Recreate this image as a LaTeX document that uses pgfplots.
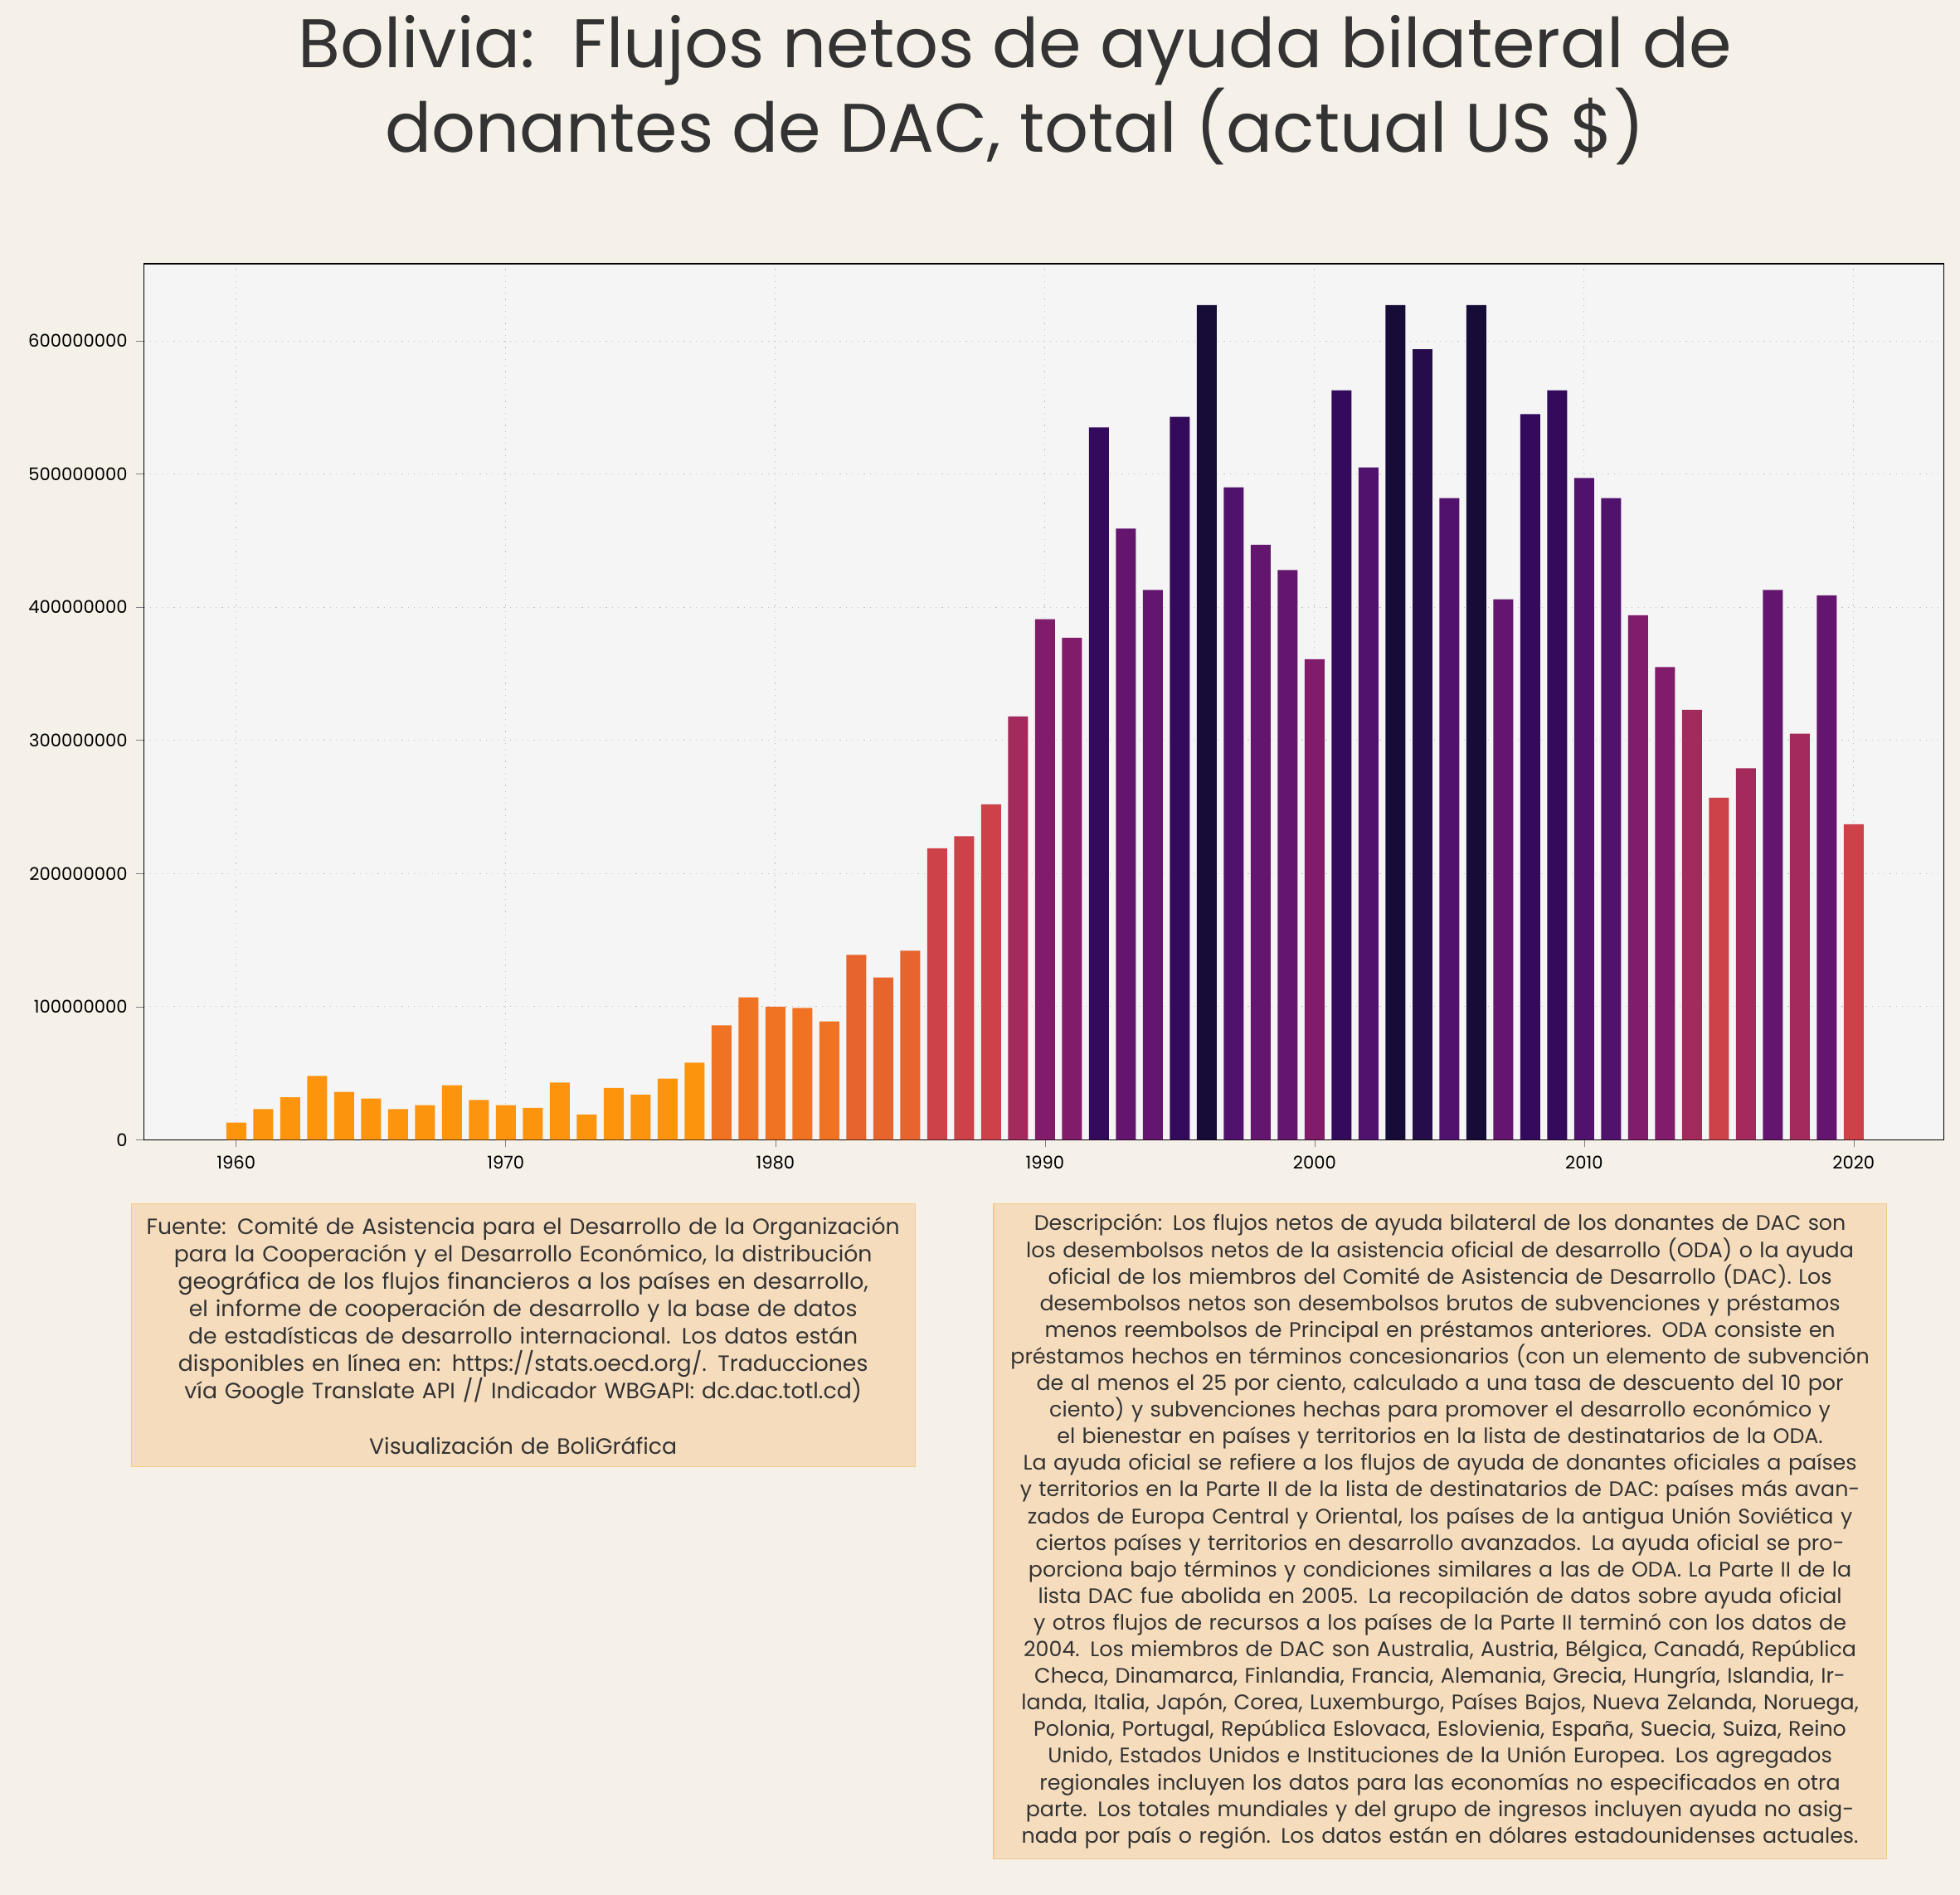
\documentclass[border=0pt]{standalone}
\usepackage{pgfplots}
\pgfplotsset{compat=1.18}
\usepackage{fontspec}
\setmainfont{Poppins}
\definecolor{pagebg}{HTML}{F5F0E8}
\definecolor{axbg}{HTML}{F5F5F5}
\definecolor{boxfill}{HTML}{F5DCBD}
\definecolor{boxdraw}{HTML}{F3C890}
\definecolor{txt}{HTML}{333333}
\definecolor{c1}{RGB}{252,148,14}
\definecolor{c2}{RGB}{240,115,35}
\definecolor{c3}{RGB}{232,100,45}
\definecolor{c4}{RGB}{205,65,72}
\definecolor{c5}{RGB}{165,42,92}
\definecolor{c6}{RGB}{128,28,106}
\definecolor{c7}{RGB}{100,22,110}
\definecolor{c8}{RGB}{80,18,108}
\definecolor{c9}{RGB}{52,10,92}
\definecolor{c10}{RGB}{22,12,55}
\definecolor{c11}{RGB}{38,12,75}
\begin{document}
\begin{tikzpicture}
\fill[pagebg] (0,0) rectangle (784pt,-758pt);
\node[font=\fontsize{27.5}{31.5}\selectfont, text=txt, align=center, anchor=center] at (406pt,-36pt) {Bolivia:\ \ Flujos netos de ayuda bilateral de\\donantes de DAC, total (actual US \$)};
\begin{axis}[at={(57.5pt,-456pt)}, anchor=south west, scale only axis,
 width=720pt, height=350.5pt,
 xmin=1956.57, xmax=2023.34, ymin=0, ymax=658000000,
 axis background/.style={fill=axbg},
 grid=major, grid style={gray!50, dotted},
 xtick={1960,1970,...,2020}, ytick={0,100000000,...,600000000},
 scaled y ticks=false, tick pos=left,
 /pgf/number format/.cd, fixed, 1000 sep={}, assume math mode=true, /pgfplots/.cd,
 tick label style={font=\fontsize{7}{8}\selectfont, text=black},
 tick align=outside, major tick length=3pt,
 ybar, bar width=0.74, bar shift=0pt,
 every axis plot/.append style={draw=none},
]
\addplot[fill=c1] coordinates {(1960,13e6)(1961,23e6)(1962,32e6)(1963,48e6)(1964,36e6)(1965,31e6)(1966,23e6)(1967,26e6)(1968,41e6)(1969,30e6)
(1970,26e6)(1971,24e6)(1972,43e6)(1973,19e6)(1974,39e6)(1975,34e6)(1976,46e6)(1977,58e6)};
\addplot[fill=c2] coordinates {(1978,86e6)(1979,107e6)(1980,100e6)(1981,99e6)(1982,89e6)};
\addplot[fill=c3] coordinates {(1983,139e6)(1984,122e6)(1985,142e6)};
\addplot[fill=c4] coordinates {(1986,219e6)(1987,228e6)(1988,252e6)(2015,257e6)(2020,237e6)};
\addplot[fill=c5] coordinates {(1989,318e6)(2014,323e6)(2016,279e6)(2018,305e6)};
\addplot[fill=c6] coordinates {(1990,391e6)(1991,377e6)(2000,361e6)(2012,394e6)(2013,355e6)};
\addplot[fill=c7] coordinates {(1993,459e6)(1994,413e6)(1998,447e6)(1999,428e6)(2007,406e6)(2017,413e6)(2019,409e6)};
\addplot[fill=c8] coordinates {(1997,490e6)(2002,505e6)(2005,482e6)(2010,497e6)(2011,482e6)};
\addplot[fill=c9] coordinates {(1992,535e6)(1995,543e6)(2001,563e6)(2008,545e6)(2009,563e6)};
\addplot[fill=c10] coordinates {(1996,627e6)(2003,627e6)(2006,627e6)};
\addplot[fill=c11] coordinates {(2004,594e6)};
\end{axis}
\node[anchor=north, fill=boxfill, draw=boxdraw, text width=305pt, inner xsep=4.25pt, inner ysep=5pt, align=center, text=txt, font=\fontsize{8.85}{11}\selectfont] at (209.25pt,-481.5pt) {\hyphenpenalty=10000\exhyphenpenalty=10000 Fuente: Comité de Asistencia para el Desarrollo de la Organización para la Cooperación y el Desarrollo Económico, la distribución geográfica de los flujos financieros a los países en desarrollo, el informe de cooperación de desarrollo y la base de datos de estadísticas de desarrollo internacional. Los datos están disponibles en línea en: https://stats.oecd.org/. Traducciones vía Google Translate API // Indicador WBGAPI: dc.dac.totl.cd)\\[11pt]Visualización de BoliGráfica};
\node[anchor=north, fill=boxfill, draw=boxdraw, text width=349pt, inner xsep=4pt, inner ysep=4pt, align=center, text=txt, font=\fontsize{8.4}{10.65}\selectfont] at (576pt,-481.5pt) {\hyphenpenalty=10000\exhyphenpenalty=10000 Descripción: Los flujos netos de ayuda bilateral de los donantes de DAC son los desembolsos netos de la asistencia oficial de desarrollo (ODA) o la ayuda oficial de los miembros del Comité de Asistencia de Desarrollo (DAC). Los desembolsos netos son desembolsos brutos de subvenciones y préstamos menos reembolsos de Principal en préstamos anteriores. ODA consiste en préstamos hechos en términos concesionarios (con un elemento de subvención de al menos el 25 por ciento, calculado a una tasa de descuento del 10 por ciento) y subvenciones hechas para promover el desarrollo económico y el bienestar en países y territorios en la lista de destinatarios de la ODA.\\La ayuda oficial se refiere a los flujos de ayuda de donantes oficiales a países y territorios en la Parte II de la lista de destinatarios de DAC: países más avanzados de Europa Central y Oriental, los países de la antigua Unión Soviética y ciertos países y territorios en desarrollo avanzados. La ayuda oficial se proporciona bajo términos y condiciones similares a las de ODA. La Parte II de la lista DAC fue abolida en 2005. La recopilación de datos sobre ayuda oficial y otros flujos de recursos a los países de la Parte II terminó con los datos de 2004. Los miembros de DAC son Australia, Austria, Bélgica, Canadá, República Checa, Dinamarca, Finlandia, Francia, Alemania, Grecia, Hungría, Islandia, Irlanda, Italia, Japón, Corea, Luxemburgo, Países Bajos, Nueva Zelanda, Noruega, Polonia, Portugal, República Eslovaca, Eslovienia, España, Suecia, Suiza, Reino Unido, Estados Unidos e Instituciones de la Unión Europea. Los agregados regionales incluyen los datos para las economías no especificados en otra parte. Los totales mundiales y del grupo de ingresos incluyen ayuda no asignada por país o región. Los datos están en dólares estadounidenses actuales.};
\end{tikzpicture}
\end{document}
